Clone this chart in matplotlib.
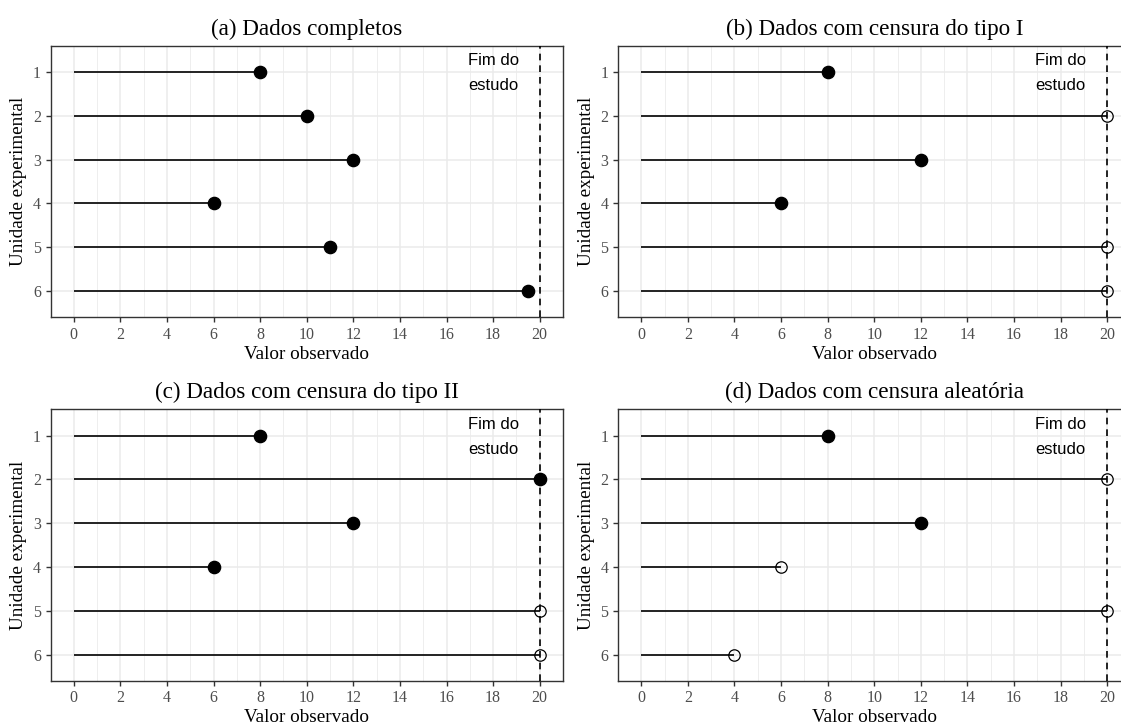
import matplotlib
import matplotlib.pyplot as plt
import numpy as np

matplotlib.use("Agg")

# --- data -----------------------------------------------------------------
units = [1, 2, 3, 4, 5, 6]

titles = [
    "(a) Dados completos",
    "(b) Dados com censura do tipo I",
    "(c) Dados com censura do tipo II",
    "(d) Dados com censura aleatória",
]

times_a = [8, 10, 12, 6, 11, 19.5]
times_b = [8, 20, 12, 6, 20, 20]
times_c = [8, 20, 12, 6, 20, 20]
times_d = [8, 20, 12, 6, 20, 4]

# 1 = failure observed (filled), 0 = censored (open)
event_a = [1, 1, 1, 1, 1, 1]
event_b = [1, 0, 1, 1, 0, 0]
event_c = [1, 1, 1, 1, 0, 0]
event_d = [1, 0, 1, 0, 0, 0]

study_end = 20
x_ticks = list(range(0, 21, 2))

# --- style ----------------------------------------------------------------
SERIF = "Liberation Serif"
SANS = "Liberation Sans"
GRID = "#EBEBEB"
BORDER = "#333333"
TICKTXT = "#4D4D4D"

W, H = 1121, 724
fig = plt.figure(figsize=(W / 100, H / 100), dpi=100)

# panel boxes in pixels: (left, top, right, bottom)
boxes = [
    (50.5, 45.7, 563.0, 317.3),
    (618.0, 45.7, 1130.5, 317.3),
    (50.5, 409.3, 563.0, 681.0),
    (618.0, 409.3, 1130.5, 681.0),
]

panels = [
    (times_a, event_a),
    (times_b, event_b),
    (times_c, event_c),
    (times_d, event_d),
]


def draw_panel(ax, title, times, events):
    y = np.array(units)
    t = np.array(times, dtype=float)
    ev = np.array(events, dtype=bool)

    ax.set_xlim(-1, 21)
    ax.set_ylim(6.6, 0.4)

    # grid: major at even values, minor at odd values
    ax.set_xticks(x_ticks)
    ax.set_xticks(np.arange(1, 21, 2), minor=True)
    ax.set_yticks(units)
    ax.grid(which="major", color=GRID, linewidth=1.1)
    ax.grid(which="minor", axis="x", color=GRID, linewidth=0.6)
    ax.set_axisbelow(True)

    ax.hlines(y, 0, t, color="black", linewidth=1.2, zorder=3)
    ax.axvline(study_end, color="black", linestyle=(0, (4, 3)), linewidth=1.2, zorder=3)

    ax.plot(t[ev], y[ev], "o", color="black", markersize=8.8, zorder=4)
    ax.plot(t[~ev], y[~ev], "o", markerfacecolor="none", markeredgecolor="black",
            markeredgewidth=0.9, markersize=8.2, zorder=4)

    ax.text(18, 1.03, "Fim do\nestudo", ha="center", va="center",
            fontsize=12, family=SANS, linespacing=1.8, zorder=5)

    for s in ax.spines.values():
        s.set_color(BORDER)
        s.set_linewidth(1.0)
    ax.tick_params(which="major", length=3.8, width=1.0, color=BORDER,
                   labelsize=11.5, labelcolor=TICKTXT, pad=3)
    ax.tick_params(which="minor", length=0)
    for lbl in ax.get_xticklabels() + ax.get_yticklabels():
        lbl.set_family(SERIF)

    ax.set_title(title, family=SERIF, fontsize=16.7, pad=8)
    ax.set_xlabel("Valor observado", family=SERIF, fontsize=13.8, labelpad=2)
    ax.set_ylabel("Unidade experimental", family=SERIF, fontsize=13.8, labelpad=4)


for (l, t, r, b), title, (times, events) in zip(boxes, titles, panels):
    ax = fig.add_axes([l / W, 1 - b / H, (r - l) / W, (b - t) / H])
    draw_panel(ax, title, times, events)

fig.savefig("out.png", dpi=100)
